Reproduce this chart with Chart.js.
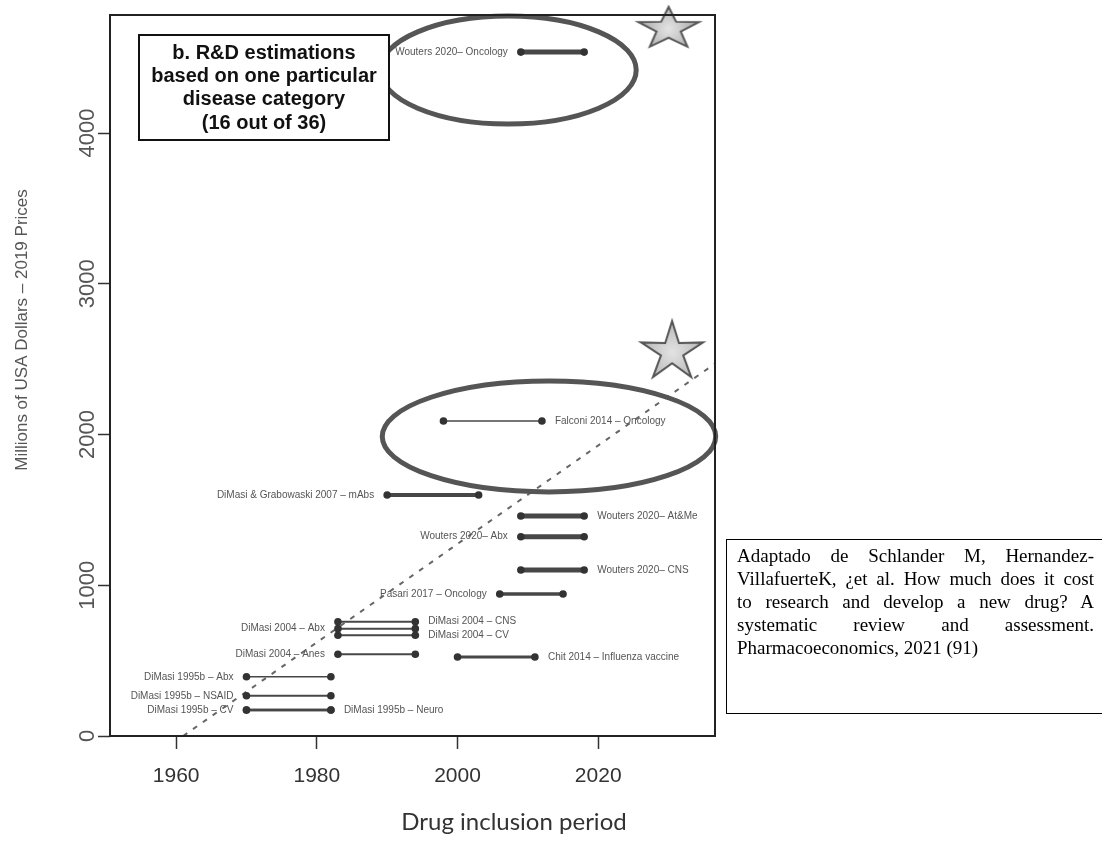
<!DOCTYPE html>
<html>
<head>
<meta charset="utf-8">
<script src="https://cdn.jsdelivr.net/npm/chart.js@4.4.1/dist/chart.umd.min.js"></script>
<style>
  html, body { margin: 0; padding: 0; background: #fff; overflow: hidden; }
  #wrap { position: relative; width: 1102px; height: 861px; }
  #caption {
    position: absolute; left: 726px; top: 539px; width: 376px; height: 175px;
    border: 1px solid #000; border-right: none; box-sizing: border-box;
    padding: 4px 0 0 10px;
    font-family: "Liberation Serif", "Times New Roman", serif; font-size: 19px; line-height: 23px; color: #000;
  }
  #caption div { width: 357px; text-align: justify; text-align-last: justify; white-space: nowrap; }
  #caption div.last { text-align-last: left; }
</style>
</head>
<body>
<div id="wrap">
  <canvas id="chart" width="1102" height="861"></canvas>
  <div id="caption">
    <div>Adaptado de Schlander M, Hernandez-</div>
    <div>VillafuerteK, ¿et al. How much does it cost</div>
    <div>to research and develop a new drug? A</div>
    <div>systematic review and assessment.</div>
    <div class="last">Pharmacoeconomics, 2021 (91)</div>
  </div>
</div>
<script>
// studies (one segment each): inclusion period and cost, millions USD 2019
const studies = [
  'Wouters 2020– Oncology',
  'Falconi 2014 – Oncology',
  'DiMasi & Grabowaski 2007 – mAbs',
  'Wouters 2020– At&Me',
  'Wouters 2020– Abx',
  'Wouters 2020– CNS',
  'Pasari 2017 – Oncology',
  'DiMasi 2004 – CNS',
  'DiMasi 2004 – Abx',
  'DiMasi 2004 – CV',
  'DiMasi 2004 – Anes',
  'Chit 2014 – Influenza vaccine',
  'DiMasi 1995b – Abx',
  'DiMasi 1995b – NSAID',
  'DiMasi 1995b – CV',
  'DiMasi 1995b – Neuro'
];
const startYear = [2009, 1998, 1990, 2009, 2009, 2009, 2006, 1983, 1983, 1983, 1983, 2000, 1970, 1970, 1970, 1970];
const endYear   = [2018, 2012, 2003, 2018, 2018, 2018, 2015, 1994, 1994, 1994, 1994, 2011, 1982, 1982, 1982, 1982];
const costMillions = [4537, 2090, 1599, 1459, 1322, 1101, 942, 758, 712, 668, 542, 524, 393, 267, 172, 172];

// dashed trend line
const trendYears = [1961, 2036.6];
const trendCost = [0, 2470];

// stars
const starYears = [2030.0, 2030.5];
const starCost = [4691, 2547];

// highlighted ellipses (centre and half axes, in data units)
const ellipseYear = [2007.2, 2013.0];
const ellipseCost = [4418, 1987];
const ellipseHalfYears = [18.2, 23.7];
const ellipseHalfCost = [358, 368];

const xTicks = [1960, 1980, 2000, 2020];
const yTicks = [0, 1000, 2000, 3000, 4000];

// styles
const labelSide = ['left', 'right', 'left', 'right', 'left', 'right', 'left', 'right', 'left', 'right', 'left', 'right', 'left', 'left', 'left', 'right'];
const lineWidth = [5, 1.5, 4, 5, 5, 5, 3.5, 2, 2, 2, 2, 3, 1.5, 2, 2.5, 2.5];

function makeStar(R, sx, inner) {
  const c = document.createElement('canvas');
  c.width = Math.ceil(2 * R * sx + 6);
  c.height = Math.ceil(2 * R + 6);
  const g = c.getContext('2d');
  g.translate(c.width / 2, c.height / 2);
  g.beginPath();
  for (let k = 0; k < 10; k++) {
    const r = k % 2 === 0 ? R : R * inner;
    const a = -Math.PI / 2 + k * Math.PI / 5;
    const px = Math.cos(a) * r * sx, py = Math.sin(a) * r;
    if (k === 0) g.moveTo(px, py); else g.lineTo(px, py);
  }
  g.closePath();
  const grad = g.createRadialGradient(0, 0, 1, 0, 0, R);
  grad.addColorStop(0, '#e2e2e2');
  grad.addColorStop(1, '#b8b8b8');
  g.fillStyle = grad;
  g.fill();
  g.lineWidth = 2;
  g.strokeStyle = '#555';
  g.stroke();
  return c;
}
const starImages = [makeStar(22, 1.45, 0.4), makeStar(31, 1.05, 0.36)];

const datasets = [];
studies.forEach((name, i) => {
  datasets.push({
    label: name,
    data: [{x: startYear[i], y: costMillions[i]}, {x: endYear[i], y: costMillions[i]}],
    showLine: true,
    borderColor: '#474747',
    borderWidth: lineWidth[i],
    pointRadius: 3.8,
    pointBackgroundColor: '#333',
    pointBorderColor: '#333',
    pointBorderWidth: 0
  });
});
datasets.push({
  label: 'trend',
  data: trendYears.map((x, i) => ({x: x, y: trendCost[i]})),
  showLine: true,
  borderColor: '#666',
  borderWidth: 2,
  borderDash: [5, 7],
  pointRadius: 0
});
datasets.push({
  label: 'stars',
  data: starYears.map((x, i) => ({x: x, y: starCost[i]})),
  showLine: false,
  pointStyle: starImages,
  pointRadius: 3,
  clip: false
});

const annotations = {
  id: 'annotations',
  afterDatasetsDraw(chart) {
    const ctx = chart.ctx, xs = chart.scales.x, ys = chart.scales.y;
    ctx.save();
    // segment labels
    ctx.font = '10px "Liberation Sans", Arial, sans-serif';
    ctx.fillStyle = '#555';
    ctx.textBaseline = 'middle';
    studies.forEach((name, i) => {
      const y = ys.getPixelForValue(costMillions[i]);
      if (labelSide[i] === 'left') {
        ctx.textAlign = 'right';
        ctx.fillText(name, xs.getPixelForValue(startYear[i]) - 13, y);
      } else {
        ctx.textAlign = 'left';
        ctx.fillText(name, xs.getPixelForValue(endYear[i]) + 13, y);
      }
    });
    // ellipses
    ctx.strokeStyle = '#555';
    ctx.lineWidth = 5;
    ellipseYear.forEach((yr, i) => {
      const cx = xs.getPixelForValue(yr), cy = ys.getPixelForValue(ellipseCost[i]);
      const rx = Math.abs(xs.getPixelForValue(yr + ellipseHalfYears[i]) - cx);
      const ry = Math.abs(ys.getPixelForValue(ellipseCost[i] + ellipseHalfCost[i]) - cy);
      ctx.beginPath();
      ctx.ellipse(cx, cy, rx, ry, 0, 0, Math.PI * 2);
      ctx.stroke();
    });
    ctx.restore();
  },
  afterDraw(chart) {
    const ctx = chart.ctx, a = chart.chartArea, ys = chart.scales.y;
    ctx.save();
    // plot frame
    ctx.strokeStyle = '#222';
    ctx.lineWidth = 2;
    ctx.strokeRect(a.left, a.top, a.right - a.left, a.bottom - a.top);
    // y tick labels, rotated as in R
    ctx.font = '22px "Liberation Sans", Arial, sans-serif';
    ctx.fillStyle = '#555';
    ctx.textAlign = 'center';
    ctx.textBaseline = 'middle';
    ys.ticks.forEach(t => {
      ctx.save();
      ctx.translate(a.left - 22, ys.getPixelForValue(t.value));
      ctx.rotate(-Math.PI / 2);
      ctx.fillText(t.value, 0, 0);
      ctx.restore();
    });
    // y title
    ctx.save();
    ctx.font = '17px "Liberation Sans", Arial, sans-serif';
    ctx.fillStyle = '#555';
    ctx.translate(22, 330);
    ctx.rotate(-Math.PI / 2);
    ctx.fillText('Millions of USA Dollars – 2019 Prices', 0, 0);
    ctx.restore();
    // x title
    ctx.font = '24px Lato, "Open Sans", sans-serif';
    ctx.fillStyle = '#333';
    ctx.fillText('Drug inclusion period', 514, 822);
    // title box
    const bx = a.left + 29, by = a.top + 20, bw = 250, bh = 105;
    ctx.fillStyle = '#fff';
    ctx.fillRect(bx, by, bw, bh);
    ctx.strokeStyle = '#111';
    ctx.lineWidth = 2;
    ctx.strokeRect(bx, by, bw, bh);
    ctx.fillStyle = '#111';
    ctx.font = 'bold 20px "Liberation Sans", Arial, sans-serif';
    ['b. R&D estimations', 'based on one particular', 'disease category', '(16 out of 36)'].forEach((s, k) => {
      ctx.fillText(s, bx + bw / 2, by + 18 + k * 23.4);
    });
    ctx.restore();
  }
};

new Chart(document.getElementById('chart'), {
  type: 'scatter',
  data: { datasets: datasets },
  options: {
    responsive: false,
    animation: false,
    devicePixelRatio: 1,
    layout: { padding: { top: 15, right: 387, left: 0, bottom: 0 } },
    plugins: { legend: { display: false }, tooltip: { enabled: false } },
    scales: {
      x: {
        type: 'linear',
        min: 1950.6,
        max: 2036.6,
        afterFit: s => { s.height = 125; },
        afterBuildTicks: s => { s.ticks = xTicks.map(v => ({value: v})); },
        ticks: {
          includeBounds: false,
          padding: 15,
          color: '#333',
          font: { family: '"Liberation Sans", Arial, sans-serif', size: 21 },
          callback: v => String(v)
        },
        grid: { drawOnChartArea: false, drawTicks: true, tickLength: 13, tickColor: '#333', tickWidth: 1.5 },
        border: { display: false }
      },
      y: {
        type: 'linear',
        min: 0,
        max: 4783,
        afterFit: s => { s.width = 110; },
        afterBuildTicks: s => { s.ticks = yTicks.map(v => ({value: v})); },
        ticks: { display: false, includeBounds: false },
        grid: { drawOnChartArea: false, drawTicks: true, tickLength: 12, tickColor: '#333', tickWidth: 1.5 },
        border: { display: false }
      }
    }
  },
  plugins: [annotations]
});
</script>
</body>
</html>
